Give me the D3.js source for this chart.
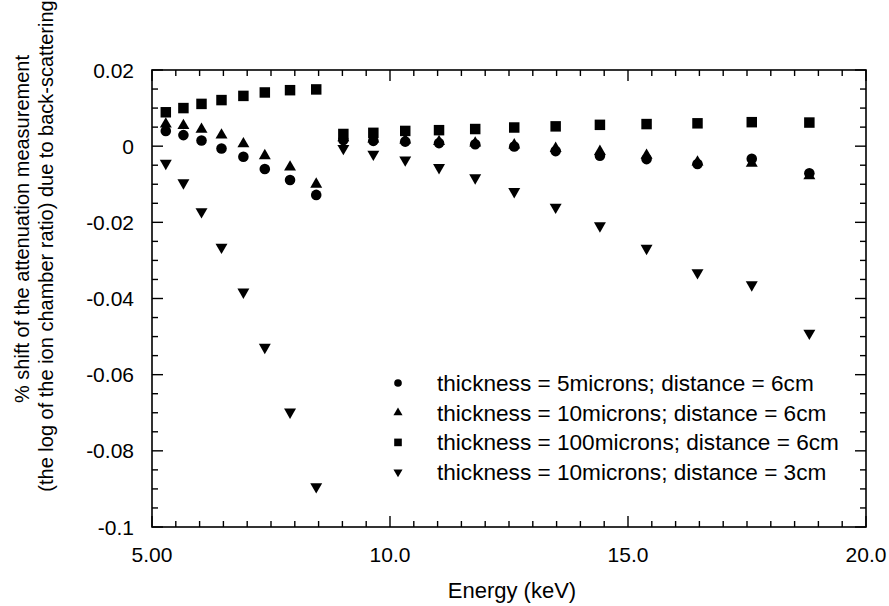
<!DOCTYPE html>
<html><head><meta charset="utf-8">
<script src="https://cdn.jsdelivr.net/npm/d3@7"></script>
<style>
body{margin:0;background:#fff;}
text{font-family:"Liberation Sans",Arial,Helvetica,sans-serif;fill:#000;}
</style></head>
<body><svg id="c" width="889" height="606"></svg>
<script>
const energy = [5.29, 5.66, 6.04, 6.46, 6.92, 7.37, 7.90, 8.45, 9.02, 9.65, 10.32, 11.03, 11.79, 12.61, 13.48, 14.41, 15.39, 16.46, 17.60, 18.81];
const t5d6 = [0.0040, 0.0029, 0.0015, -0.0006, -0.0028, -0.0060, -0.0089, -0.0128, 0.0016, 0.0014, 0.0012, 0.0008, 0.0005, -0.0001, -0.0013, -0.0025, -0.0034, -0.0047, -0.0033, -0.0071];
const t10d6 = [0.0058, 0.0054, 0.0044, 0.0029, 0.0006, -0.0025, -0.0055, -0.0100, 0.0022, 0.0019, 0.0016, 0.0012, 0.0008, 0.0003, -0.0006, -0.0014, -0.0024, -0.0042, -0.0045, -0.0078];
const t100d6 = [0.0089, 0.0100, 0.0111, 0.0121, 0.0132, 0.0141, 0.0147, 0.0149, 0.0032, 0.0035, 0.0040, 0.0042, 0.0045, 0.0049, 0.0052, 0.0056, 0.0058, 0.0060, 0.0063, 0.0062];
const t10d3 = [-0.0045, -0.0096, -0.0172, -0.0265, -0.0383, -0.0528, -0.0698, -0.0894, -0.0006, -0.0021, -0.0036, -0.0056, -0.0083, -0.0119, -0.0160, -0.0209, -0.0268, -0.0332, -0.0364, -0.0491];
const seriesNames = ["thickness = 5microns; distance = 6cm", "thickness = 10microns; distance = 6cm", "thickness = 100microns; distance = 6cm", "thickness = 10microns; distance = 3cm"];
const xTickValues = [5, 10, 15, 20];
const xTickLabels = ["5.00", "10.0", "15.0", "20.0"];
const yTickValues = [0.02, 0, -0.02, -0.04, -0.06, -0.08, -0.1];
const yTickLabels = ["0.02", "0", "-0.02", "-0.04", "-0.06", "-0.08", "-0.1"];

const svg = d3.select("#c");
const L = 152, R = 866, T = 70, B = 527;
const x = d3.scaleLinear().domain([5, 20]).range([L, R]);
const y = d3.scaleLinear().domain([-0.1, 0.02]).range([B, T]);

const series = [
  {name: seriesNames[0], vals: t5d6, sym: d3.symbolCircle, size: 88, rot: 0, lsize: 46},
  {name: seriesNames[1], vals: t10d6, sym: d3.symbolTriangle, size: 62, rot: 0, lsize: 36},
  {name: seriesNames[2], vals: t100d6, sym: d3.symbolSquare, size: 110, rot: 0, lsize: 58},
  {name: seriesNames[3], vals: t10d3, sym: d3.symbolTriangle, size: 62, rot: 180, lsize: 36}
];

// frame
svg.append("rect").attr("x", L).attr("y", T).attr("width", R - L).attr("height", B - T)
  .attr("fill", "none").attr("stroke", "#000").attr("stroke-width", 1.6);

// ticks (inward, all four sides)
const minorX = d3.range(5, 20.001, 0.5);
const minorY = d3.range(-0.1, 0.02001, 0.005);
const isMajorX = v => Math.abs(v - Math.round(v / 5) * 5) < 1e-6;
const isMajorY = v => Math.abs(v - Math.round(v / 0.02) * 0.02) < 1e-7;
const tg = svg.append("g").attr("stroke", "#000").attr("stroke-width", 1.4);
minorX.forEach(v => {
  const len = isMajorX(v) ? 11 : 6;
  tg.append("line").attr("x1", x(v)).attr("x2", x(v)).attr("y1", B).attr("y2", B - len);
  tg.append("line").attr("x1", x(v)).attr("x2", x(v)).attr("y1", T).attr("y2", T + len);
});
minorY.forEach(v => {
  const len = isMajorY(v) ? 11 : 6;
  tg.append("line").attr("x1", L).attr("x2", L + len).attr("y1", y(v)).attr("y2", y(v));
  tg.append("line").attr("x1", R).attr("x2", R - len).attr("y1", y(v)).attr("y2", y(v));
});

// tick labels
svg.append("g").selectAll("text").data(xTickValues).join("text")
  .attr("x", d => x(d)).attr("y", 562).attr("text-anchor", "middle")
  .attr("font-size", 21).text((d, i) => xTickLabels[i]);
svg.append("g").selectAll("text").data(yTickValues).join("text")
  .attr("x", 134).attr("y", d => y(d) + 7.5).attr("text-anchor", "end")
  .attr("font-size", 21).text((d, i) => yTickLabels[i]);

// axis titles
svg.append("text").attr("x", 512).attr("y", 598).attr("text-anchor", "middle")
  .attr("font-size", 22).text("Energy (keV)");
svg.append("text").attr("transform", "translate(29,229) rotate(-90)")
  .attr("text-anchor", "middle").attr("font-size", 20)
  .text("% shift of the attenuation measurement");
svg.append("text").attr("transform", "translate(53,246) rotate(-90)")
  .attr("text-anchor", "middle").attr("font-size", 20)
  .text("(the log of the ion chamber ratio) due to back-scattering");

// markers
series.forEach(s => {
  const path = d3.symbol().type(s.sym).size(s.size)();
  svg.append("g").selectAll("path").data(energy.map((e, i) => [e, s.vals[i]])).join("path")
    .attr("d", path)
    .attr("transform", d => `translate(${x(d[0])},${y(d[1])}) rotate(${s.rot})`)
    .attr("fill", "#000");
});

// legend
const lg = svg.append("g");
series.forEach((s, i) => {
  const cy = 383 + i * 29.7;
  lg.append("path").attr("d", d3.symbol().type(s.sym).size(s.lsize)())
    .attr("transform", `translate(398,${cy}) rotate(${s.rot})`).attr("fill", "#000");
  lg.append("text").attr("x", 437).attr("y", cy + 8).attr("font-size", 22.6).text(s.name);
});
</script></body></html>
